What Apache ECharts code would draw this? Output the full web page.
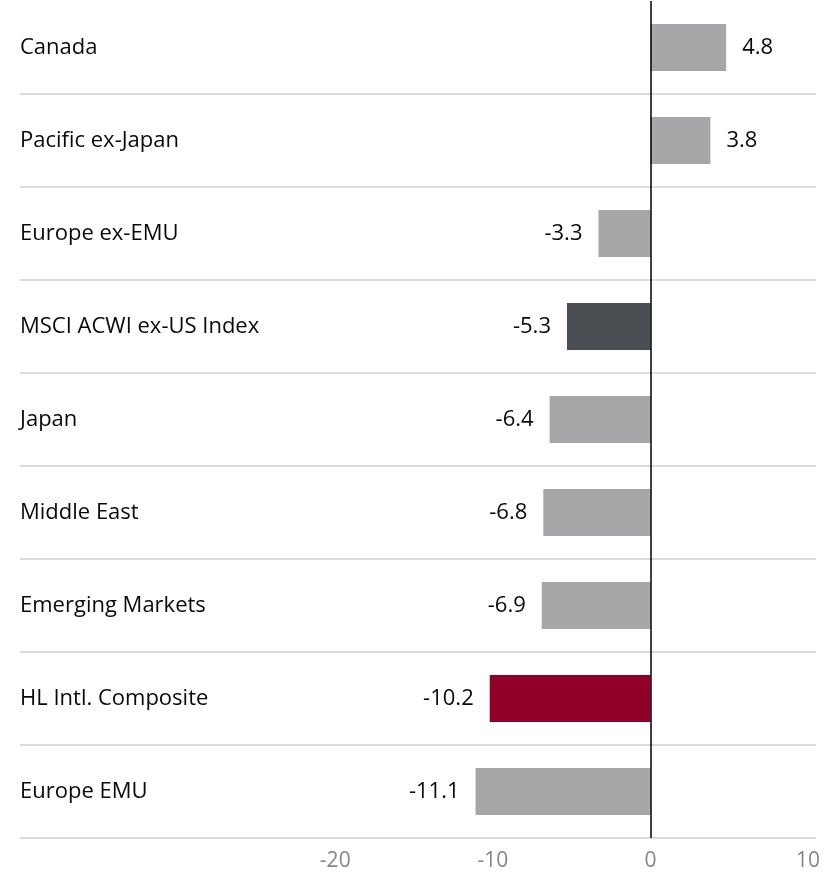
<!DOCTYPE html>
<html>
<head>
<meta charset="utf-8">
<script src="https://cdn.jsdelivr.net/npm/echarts@6/dist/echarts.min.js"></script>
<style>
html, body { margin: 0; padding: 0; background: #fff; }
#chart { width: 839px; height: 877px; }
</style>
</head>
<body>
<div id="chart"></div>
<script>
// 地区名称 / 收益
var regions = ['Canada', 'Pacific ex-Japan', 'Europe ex-EMU', 'MSCI ACWI ex-US Index', 'Japan',
	'Middle East', 'Emerging Markets', 'HL Intl. Composite', 'Europe EMU'];
var returns = [4.8, 3.8, -3.3, -5.3, -6.4, -6.8, -6.9, -10.2, -11.1];
var barColors = ['#a7a7a9', '#a7a7a9', '#a7a7a9', '#4b4e52', '#a7a7a9',
	'#a7a7a9', '#a7a7a9', '#900028', '#a7a7a9'];
var tickLabels = [-20, -10, 0, 10];

var fontFamily = '"Open Sans", Roboto, sans-serif';

var barData = [];
for (var i = 0; i < returns.length; i++) {
	barData.push({
		value : returns[i],
		itemStyle : { color : barColors[i] },
		label : { position : returns[i] < 0 ? 'left' : 'right' }
	});
}

var obj = echarts.init(document.getElementById('chart'));
var option = {
	animation : false,
	grid : {
		left : 20,
		right : 23,
		top : 1,
		bottom : 39,
		containLabel : false
	},
	xAxis : {
		type : 'value',
		min : -40,
		max : 10.5,
		interval : 10,
		axisLine : { show : false },
		axisTick : { show : false },
		splitLine : { show : false },
		axisLabel : {
			color : '#8a8582',
			fontSize : 21,
			fontFamily : fontFamily,
			margin : 13,
			showMaxLabel : false,
			formatter : function(v) {
				return tickLabels.indexOf(v) >= 0 ? String(v) : '';
			}
		}
	},
	yAxis : {
		type : 'category',
		inverse : true,
		data : regions,
		axisLine : { show : false, onZero : false },
		axisTick : { show : false },
		splitLine : {
			show : true,
			showMinLine : false,
			lineStyle : { color : '#dcdcdc', width : 2 }
		},
		axisLabel : {
			inside : true,
			margin : 0,
			align : 'left',
			color : '#0a0a0a',
			fontSize : 22,
			fontFamily : fontFamily
		}
	},
	series : [
		{
			type : 'bar',
			data : barData,
			barWidth : 47,
			label : {
				show : true,
				distance : 16,
				color : '#0a0a0a',
				fontSize : 22,
				fontFamily : fontFamily,
				formatter : function(p) { return p.value.toFixed(1); }
			},
			markLine : {
				silent : true,
				symbol : 'none',
				label : { show : false },
				lineStyle : { color : '#000', width : 1.5, type : 'solid' },
				data : [ { xAxis : 0 } ]
			}
		}
	]
};
obj.setOption(option);
</script>
</body>
</html>
